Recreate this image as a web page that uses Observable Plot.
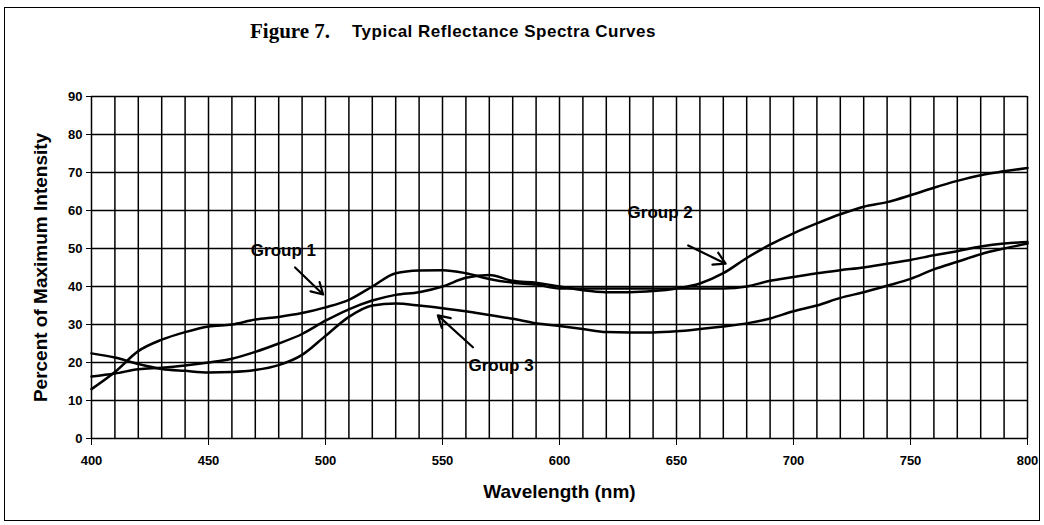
<!DOCTYPE html>
<html><head><meta charset="utf-8">
<script src="https://cdn.jsdelivr.net/npm/d3@7"></script>
<script src="https://cdn.jsdelivr.net/npm/@observablehq/plot@0.6"></script>
<style>
body{margin:0;background:#fff;}
#wrap{position:relative;width:1044px;height:525px;overflow:hidden;background:#fff;}
#frame{position:absolute;left:4px;top:7px;width:1036px;height:514px;border:1px solid #000;box-sizing:border-box;pointer-events:none;}
#title{position:absolute;top:0;left:0;width:1044px;height:50px;}
.fig{position:absolute;left:250px;top:19px;font-family:"Liberation Serif",serif;font-size:21px;font-weight:bold;}
.sub{position:absolute;left:352px;top:22px;font-family:"Liberation Sans",Arial,sans-serif;font-size:17px;font-weight:bold;letter-spacing:0.5px;}
#chart{position:absolute;top:50px;left:0;}
#chart svg{overflow:visible;}
</style>
</head><body>
<div id="wrap">
  <div id="title"><span class="fig">Figure 7.</span><span class="sub">Typical Reflectance Spectra Curves</span></div>
  <div id="chart"></div>
  <div id="frame"></div>
</div>
<script>
const wavelengths = [400,410,420,430,440,450,460,470,480,490,500,510,520,530,540,550,560,570,580,590,600,610,620,630,640,650,660,670,680,690,700,710,720,730,740,750,760,770,780,790,800];
const group1 = [13,17.5,23,26,28,29.5,30,31.3,32,33,34.5,36.5,40,43.5,44.2,44.3,43.5,42,41,40.5,39.5,39.5,39.5,39.5,39.5,39.5,39.5,39.5,40,41.5,42.5,43.5,44.3,45,46,47,48.2,49.3,50.5,51.3,51.7];
const group2 = [16.3,17.1,18.2,18.6,19.2,20,21,22.8,25,27.5,31,34,36.3,37.8,38.5,40,42.3,43,41.5,41,40,39,38.5,38.5,38.8,39.5,40.8,43.5,47.5,51,54,56.6,59,61,62.2,64,66,67.8,69.3,70.3,71.2];
const group3 = [22.4,21.3,19.6,18.3,17.8,17.4,17.5,18,19.3,22,27,32,35,35.5,35,34.3,33.5,32.5,31.5,30.3,29.6,28.8,28,27.9,27.9,28.2,28.8,29.5,30.3,31.6,33.5,35,37,38.5,40.2,42,44.5,46.5,48.5,50,51.3];
const seriesNames = ["Group 1","Group 2","Group 3"];
const xTicks = [400,450,500,550,600,650,700,750,800];
const yTicks = [0,10,20,30,40,50,60,70,80,90];
const labelNames = ["Group 1","Group 2","Group 3"];
const labelX = [482,643,575];
const labelY = [49.5,59.5,19.2];
const arrowX1 = [487,655,563];
const arrowY1 = [45,50.8,24];
const arrowX2 = [499,671,548];
const arrowY2 = [37.9,46,32.4];

const seriesValues = [group1, group2, group3];
const table = seriesNames.flatMap((g, i) => wavelengths.map((w, j) => ({group: g, x: w, y: seriesValues[i][j]})));
const labels = labelNames.map((t, i) => ({text: t, x: labelX[i], y: labelY[i]}));
const arrows = labelNames.map((t, i) => ({x1: arrowX1[i], y1: arrowY1[i], x2: arrowX2[i], y2: arrowY2[i]}));
const gridX = d3.range(400, 801, 10);
const gridY = yTicks;

const font = "'Liberation Sans', Arial, sans-serif";
const chart = Plot.plot({
  width: 1044,
  height: 475,
  marginTop: 46,
  marginBottom: 87,
  marginLeft: 91,
  marginRight: 17,
  style: {fontFamily: font, background: "white", color: "#000", overflow: "visible"},
  x: {domain: [400, 800]},
  y: {domain: [0, 90]},
  marks: [
    Plot.ruleX(gridX, {stroke: "#000", strokeWidth: 1.5}),
    Plot.ruleY(gridY, {stroke: "#000", strokeWidth: 1.5}),
    Plot.line(table, {x: "x", y: "y", z: "group", stroke: "#000", strokeWidth: 2.5, curve: "monotone-x"}),
    Plot.arrow(arrows, {x1: "x1", y1: "y1", x2: "x2", y2: "y2", stroke: "#000", strokeWidth: 2.2, headLength: 9}),
    Plot.text(labels, {x: "x", y: "y", text: "text", fontSize: 17, fontWeight: "bold", fill: "#000"}),
    Plot.axisX({ticks: xTicks, tickSize: 7, tickPadding: 10, fontSize: 13, fontWeight: "bold", label: null, tickFormat: d => d}),
    Plot.axisY({ticks: yTicks, tickSize: 5, tickPadding: 4, fontSize: 13, fontWeight: "bold", label: null}),
    Plot.text(["Wavelength (nm)"], {frameAnchor: "bottom", textAnchor: "middle", dy: 59, fontSize: 19, fontWeight: "bold", fill: "#000"}),
    Plot.text(["Percent of Maximum Intensity"], {frameAnchor: "left", textAnchor: "middle", dx: -51, rotate: -90, fontSize: 19, fontWeight: "bold", fill: "#000"})
  ]
});
document.getElementById("chart").appendChild(chart);
</script>
</body></html>
